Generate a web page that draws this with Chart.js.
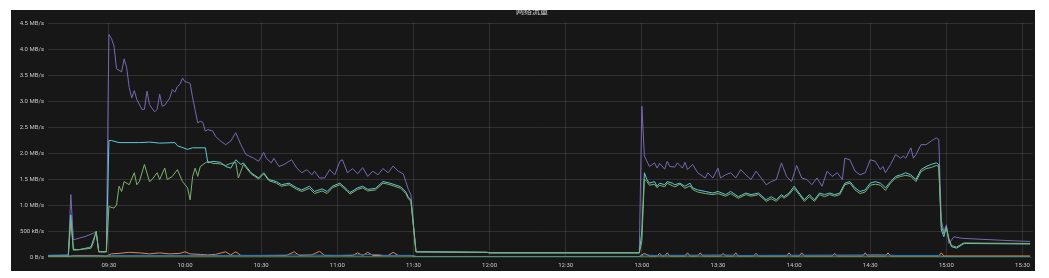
<!DOCTYPE html>
<html>
<head>
<meta charset="utf-8">
<script src="https://cdn.jsdelivr.net/npm/chart.js@4/dist/chart.umd.min.js"></script>
<style>
  body { margin: 0; background: #fff; }
  #panel { position: absolute; left: 11px; top: 10px; width: 1024px; height: 261px; background: #171717; overflow: hidden; }
  #title { position: absolute; top: -3px; left: 505px; font: 8px "Noto Sans CJK SC", sans-serif; color: #d8d9da; line-height: 8px; }
  canvas { position: absolute; left: 0; top: 0; }
</style>
</head>
<body>
<div id="panel">
  <canvas id="myChart" width="1024" height="261"></canvas>
  <div id="title">网络流量</div>
</div>
<script>
// x tick labels and y range (MB/s)
var xTicks = ['09:30','10:00','10:30','11:00','11:30','12:00','12:30','13:00','13:30','14:00','14:30','15:00','15:30'];
var yMax = 4.5;

// 紫
var purpleTimes = ['09:06','09:14','09:15','09:16','09:21','09:24','09:25','09:26','09:29','09:30','09:31','09:32','09:33','09:35','09:36','09:37','09:38','09:39','09:40','09:41','09:43','09:44','09:45','09:46','09:48','09:49','09:50','09:51','09:52','09:54','09:55','09:56','09:57','09:58','09:59','10:00','10:01','10:02','10:03','10:04','10:05','10:06','10:07','10:08','10:09','10:11','10:12','10:14','10:16','10:18','10:20','10:22','10:24','10:27','10:29','10:31','10:32','10:34','10:35','10:37','10:39','10:41','10:42','10:44','10:46','10:48','10:50','10:51','10:53','10:55','10:57','10:59','11:01','11:02','11:04','11:06','11:08','11:10','11:12','11:14','11:16','11:18','11:20','11:22','11:24','11:26','11:27','11:28','11:29','11:31','11:59','12:00','12:59','13:00','13:01','13:03','13:05','13:06','13:07','13:09','13:10','13:11','13:13','13:14','13:16','13:17','13:18','13:20','13:22','13:25','13:26','13:28','13:30','13:31','13:33','13:35','13:37','13:39','13:41','13:43','13:45','13:47','13:49','13:51','13:53','13:55','13:57','13:59','14:01','14:03','14:05','14:07','14:09','14:11','14:13','14:15','14:17','14:19','14:20','14:22','14:24','14:26','14:28','14:30','14:32','14:34','14:35','14:36','14:38','14:40','14:42','14:43','14:44','14:46','14:47','14:48','14:50','14:52','14:54','14:55','14:56','14:57','14:58','14:59','15:00','15:01','15:03','15:06','15:14','15:27','15:33'];
var purpleVals = [0.03,0.04,1.2,0.33,0.4,0.46,0.47,0.1,0.1,4.28,4.2,4.06,3.62,3.56,3.81,3.64,3.26,3.06,3.2,3.03,2.84,2.84,3.19,2.93,2.79,2.84,3.13,2.9,2.92,3.06,3.22,3.17,3.28,3.32,3.44,3.37,3.36,3.34,3.06,2.82,2.58,2.61,2.59,2.42,2.45,2.42,2.32,2.23,2.16,2.23,2.39,2.16,1.97,1.9,1.84,2.01,1.9,1.81,1.9,1.74,1.78,1.84,1.87,1.71,1.62,1.68,1.58,1.65,1.52,1.52,1.68,1.58,1.84,1.87,1.62,1.7,1.6,1.72,1.55,1.65,1.58,1.7,1.62,1.75,1.65,1.6,1.45,1.3,1.2,0.1,0.09,0.08,0.08,2.9,1.94,1.74,1.81,1.71,1.8,1.69,1.84,1.74,1.73,1.81,1.71,1.82,1.68,1.78,1.62,1.52,1.62,1.52,1.71,1.52,1.58,1.62,1.52,1.68,1.58,1.49,1.65,1.52,1.39,1.45,1.49,1.81,1.55,1.45,1.76,1.52,1.49,1.39,1.52,1.36,1.65,1.55,1.62,1.49,1.9,1.87,1.65,1.58,1.62,1.87,1.84,1.68,1.74,1.62,1.78,1.97,1.9,1.94,1.9,2.1,1.9,1.97,2.16,2.16,2.23,2.26,2.29,2.26,0.71,0.49,0.62,0.26,0.39,0.36,0.34,0.31,0.3];

// 青
var cyanTimes = ['09:06','09:14','09:15','09:16','09:18','09:20','09:22','09:23','09:24','09:25','09:26','09:29','09:30','09:31','09:34','09:42','09:46','09:50','09:56','09:57','10:01','10:03','10:08','10:09','10:11','10:14','10:16','10:18','10:20','10:22','10:23','10:26','10:29','10:31','10:33','10:36','10:38','10:41','10:44','10:46','10:49','10:51','10:54','10:56','10:58','11:01','11:04','11:05','11:08','11:10','11:12','11:15','11:18','11:20','11:22','11:25','11:27','11:28','11:29','11:31','11:59','12:00','12:59','13:00','13:01','13:02','13:03','13:05','13:06','13:07','13:09','13:10','13:12','13:13','13:15','13:17','13:19','13:20','13:22','13:25','13:28','13:30','13:33','13:35','13:38','13:41','13:43','13:46','13:49','13:51','13:53','13:55','13:56','13:58','14:00','14:02','14:04','14:06','14:08','14:10','14:12','14:14','14:16','14:18','14:20','14:22','14:24','14:26','14:28','14:30','14:32','14:34','14:36','14:38','14:40','14:42','14:44','14:46','14:48','14:50','14:52','14:54','14:56','14:57','14:58','14:59','15:00','15:01','15:02','15:04','15:06','15:07','15:33'];
var cyanVals = [0.03,0.03,0.81,0.15,0.14,0.16,0.18,0.2,0.35,0.48,0.1,0.1,2.24,2.24,2.2,2.2,2.21,2.19,2.2,2.14,2.07,2.1,2.1,1.81,1.84,1.82,1.74,1.71,1.87,1.78,1.81,1.62,1.52,1.62,1.49,1.45,1.39,1.42,1.33,1.29,1.36,1.26,1.31,1.26,1.36,1.42,1.29,1.24,1.33,1.36,1.3,1.32,1.45,1.43,1.4,1.35,1.25,1.15,1.1,0.1,0.09,0.08,0.08,0.5,1.62,1.49,1.42,1.45,1.36,1.42,1.39,1.45,1.42,1.39,1.42,1.36,1.42,1.33,1.29,1.26,1.23,1.26,1.2,1.26,1.16,1.23,1.2,1.23,1.1,1.16,1.1,1.2,1.16,1.23,1.36,1.23,1.1,1.2,1.1,1.23,1.2,1.23,1.2,1.23,1.42,1.45,1.33,1.26,1.29,1.42,1.45,1.42,1.33,1.45,1.55,1.58,1.62,1.58,1.49,1.68,1.74,1.78,1.81,1.78,0.52,0.39,0.58,0.33,0.2,0.17,0.23,0.26,0.25];

// 绿
var greenTimes = ['09:06','09:14','09:15','09:16','09:20','09:23','09:24','09:25','09:26','09:29','09:30','09:32','09:33','09:34','09:35','09:36','09:38','09:40','09:41','09:42','09:44','09:46','09:47','09:49','09:50','09:52','09:53','09:55','09:57','09:59','10:01','10:02','10:03','10:04','10:05','10:06','10:08','10:09','10:11','10:14','10:16','10:18','10:20','10:21','10:23','10:26','10:29','10:31','10:33','10:36','10:38','10:41','10:44','10:46','10:49','10:51','10:54','10:56','10:58','11:01','11:04','11:05','11:08','11:10','11:12','11:15','11:18','11:20','11:22','11:25','11:27','11:28','11:29','11:31','11:59','12:00','12:59','13:00','13:01','13:02','13:03','13:05','13:06','13:07','13:09','13:10','13:12','13:13','13:15','13:17','13:19','13:20','13:22','13:25','13:28','13:30','13:33','13:35','13:38','13:41','13:43','13:46','13:49','13:51','13:53','13:55','13:56','13:58','14:00','14:02','14:04','14:06','14:08','14:10','14:12','14:14','14:16','14:18','14:20','14:22','14:24','14:26','14:28','14:30','14:32','14:34','14:36','14:38','14:40','14:42','14:44','14:46','14:48','14:50','14:52','14:54','14:56','14:57','14:58','14:59','15:00','15:01','15:02','15:04','15:06','15:07','15:33'];
var greenVals = [0.02,0.02,0.7,0.13,0.15,0.17,0.3,0.5,0.1,0.1,0.97,0.94,1.0,1.36,1.26,1.45,1.39,1.62,1.39,1.45,1.78,1.45,1.49,1.62,1.49,1.71,1.49,1.55,1.68,1.45,1.33,1.1,1.55,1.71,1.55,1.74,1.81,1.84,1.8,1.79,1.76,1.8,1.82,1.52,1.78,1.6,1.5,1.6,1.47,1.42,1.36,1.39,1.3,1.26,1.32,1.22,1.27,1.22,1.33,1.39,1.26,1.21,1.3,1.33,1.27,1.29,1.42,1.4,1.37,1.32,1.22,1.12,1.07,0.1,0.09,0.08,0.08,0.3,1.5,1.45,1.38,1.4,1.33,1.38,1.35,1.42,1.37,1.35,1.4,1.32,1.37,1.3,1.25,1.22,1.2,1.22,1.17,1.22,1.13,1.2,1.17,1.2,1.07,1.12,1.07,1.17,1.13,1.2,1.32,1.2,1.07,1.16,1.07,1.2,1.16,1.2,1.17,1.2,1.39,1.42,1.29,1.22,1.25,1.38,1.4,1.38,1.28,1.42,1.52,1.55,1.57,1.55,1.45,1.64,1.7,1.72,1.76,1.74,0.6,0.45,0.55,0.35,0.22,0.19,0.25,0.27,0.26];

// 橙
var orangeTimes = ['09:06','09:14','09:16','09:25','09:29','09:31','09:34','09:38','09:42','09:46','09:50','09:54','09:58','10:00','10:02','10:06','10:09','10:12','10:16','10:18','10:20','10:22','10:30','10:40','10:43','10:45','10:50','10:53','10:55','11:00','11:06','11:08','11:10','11:12','11:14','11:20','11:22','11:24','11:29','11:31','12:59','13:01','13:03','13:06','13:07','13:08','13:09','13:10','13:11','13:17','13:18','13:19','13:22','13:23','13:24','13:31','13:32','13:33','13:36','13:37','13:38','13:44','13:45','13:46','13:57','13:58','13:59','14:02','14:03','14:04','14:15','14:16','14:17','14:27','14:28','14:29','14:36','14:37','14:38','14:57','14:58','14:59','15:33'];
var orangeVals = [0.01,0.01,0.03,0.03,0.02,0.06,0.07,0.09,0.08,0.06,0.08,0.06,0.07,0.1,0.06,0.05,0.04,0.05,0.1,0.04,0.1,0.03,0.03,0.03,0.1,0.03,0.04,0.11,0.03,0.03,0.03,0.08,0.03,0.09,0.03,0.03,0.09,0.03,0.03,0.01,0.01,0.07,0.02,0.02,0.07,0.02,0.02,0.08,0.02,0.02,0.08,0.02,0.02,0.08,0.02,0.02,0.07,0.02,0.02,0.08,0.02,0.02,0.07,0.02,0.02,0.08,0.02,0.02,0.08,0.02,0.02,0.07,0.02,0.02,0.08,0.02,0.02,0.08,0.02,0.02,0.08,0.02,0.02];

// 蓝
var blueTimes = ['09:06','09:29','09:31','10:30','10:45','11:00','11:16','11:18','11:29','11:31','12:59','13:01','13:05','13:32','13:40','14:28','14:32','14:40','14:57','14:59','15:33'];
var blueVals = [0.02,0.02,0.03,0.03,0.04,0.03,0.05,0.03,0.03,0.01,0.01,0.04,0.03,0.04,0.03,0.04,0.05,0.03,0.03,0.01,0.01];

// 底线
var baseTimes = ['09:06','15:33'];
var baseVals = [0.003,0.003];

function toMin(t) {
  var p = t.split(':');
  return Number(p[0]) * 60 + Number(p[1]);
}
function pts(times, vals) {
  return times.map(function(t, i) { return { x: toMin(t), y: vals[i] }; });
}
function line(label, times, vals, color) {
  return { label: label, data: pts(times, vals), borderColor: color, borderWidth: 1, pointRadius: 0, tension: 0, fill: false };
}

var gridColor = 'rgba(255,255,255,0.11)';
var tickFont = { family: 'Roboto', size: 6 };

var ctx = document.getElementById('myChart').getContext('2d');
var myChart = new Chart(ctx, {
  type: 'line',
  data: {
    datasets: [
      line('base', baseTimes, baseVals, '#629e51'),
      line('blue', blueTimes, blueVals, '#1f78c1'),
      line('orange', orangeTimes, orangeVals, '#ef843c'),
      line('green', greenTimes, greenVals, '#7eb26d'),
      line('cyan', cyanTimes, cyanVals, '#5fc8d8'),
      line('purple', purpleTimes, purpleVals, '#7a68b3')
    ]
  },
  options: {
    responsive: false,
    animation: false,
    devicePixelRatio: 1,
    layout: { padding: { top: 13, right: 1, left: 0, bottom: 0 } },
    plugins: { legend: { display: false }, tooltip: { enabled: false } },
    scales: {
      x: {
        type: 'linear',
        min: toMin('09:06'),
        max: toMin('15:34'),
        afterBuildTicks: function(s) { s.ticks = xTicks.map(function(t) { return { value: toMin(t) }; }); },
        afterFit: function(s) { s.height = 14; },
        ticks: {
          color: '#c8c8c8', font: tickFont, padding: 5, maxRotation: 0, autoSkip: false,
          callback: function(v) {
            var h = Math.floor(v / 60), m = v % 60;
            return (h < 10 ? '0' : '') + h + ':' + (m < 10 ? '0' : '') + m;
          }
        },
        grid: { color: gridColor, drawTicks: false },
        border: { display: false }
      },
      y: {
        min: 0,
        max: yMax,
        afterFit: function(s) { s.width = 37; },
        ticks: {
          stepSize: 0.5, color: '#c8c8c8', font: tickFont, padding: 4,
          callback: function(v) {
            if (v === 0) return '0 B/s';
            if (v < 1) return Math.round(v * 1000) + ' kB/s';
            return v.toFixed(1) + ' MB/s';
          }
        },
        grid: { color: gridColor, drawTicks: false },
        border: { display: false }
      }
    }
  }
});
</script>
</body>
</html>
